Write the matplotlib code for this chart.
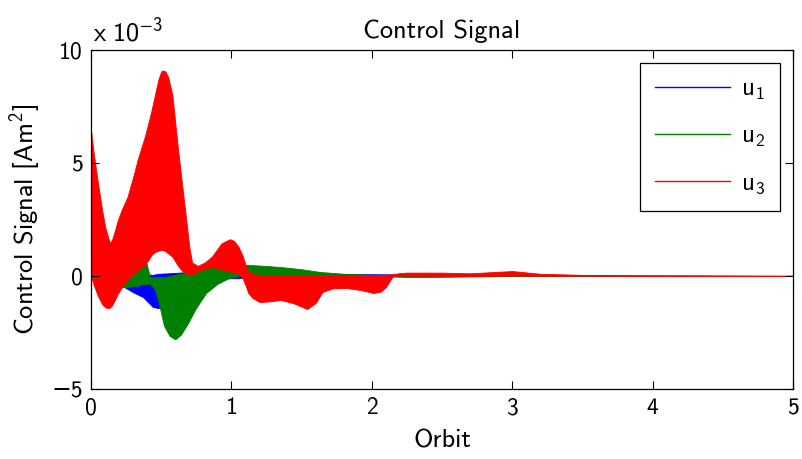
import matplotlib.pyplot as plt
from matplotlib.lines import Line2D

plt.rcParams['font.family'] = ['cmss10', 'DejaVu Sans']
plt.rcParams['mathtext.fontset'] = 'custom'
plt.rcParams['mathtext.rm'] = 'cmss10'
plt.rcParams['mathtext.it'] = 'cmss10'
plt.rcParams['axes.unicode_minus'] = False

# envelopes of the (fast oscillating) control signals, in units of 1e-3 Am^2
t_u1 = [0, 0.15, 0.24, 0.3, 0.37, 0.44, 0.48, 0.55, 0.63, 0.75, 0.9, 0.97, 1.05, 1.15, 1.5, 2.0, 3.0, 5.0]
u1_hi = [0, 0.05, 0.1, 0.1, 0.1, 0.05, 0.1, 0.12, 0.15, 0.2, 0.25, 0.45, 0.35, 0.15, 0.1, 0.08, 0.03, 0.0]
u1_lo = [0, -0.1, -0.5, -0.72, -0.93, -1.37, -1.42, -1.2, -0.6, -0.2, -0.1, -0.1, -0.1, -0.05, -0.03, 0.0, 0.0, 0.0]

t_u2 = [0, 0.15, 0.2, 0.23, 0.3, 0.396, 0.42, 0.456, 0.48, 0.52, 0.56, 0.6, 0.64, 0.69, 0.75, 0.82, 0.9, 0.98,
        1.05, 1.11, 1.35, 1.5, 1.63, 1.8, 2.0, 2.3, 3.0, 4.0, 5.0]
u2_hi = [0, 0.05, 0.1, 0.2, 0.25, 0.56, -0.05, -0.05, -0.05, -0.05, 0.0, 0.05, 0.1, 0.15, 0.25, 0.4, 0.4, 0.35,
         0.45, 0.5, 0.4, 0.3, 0.18, 0.1, 0.05, 0.05, 0.03, 0.02, 0.0]
u2_lo = [0, -0.05, -0.3, -0.5, -0.45, -0.35, -0.33, -0.6, -1.1, -2.2, -2.65, -2.8, -2.6, -2.1, -1.4, -0.75, -0.35, -0.1,
         0.0, 0.05, 0.05, 0.02, 0.0, 0.0, 0.0, -0.05, 0.0, 0.0, 0.0]

t_u3 = [0, 0.02, 0.05, 0.08, 0.1, 0.12, 0.135, 0.15, 0.17, 0.19, 0.22, 0.26, 0.31, 0.33, 0.36, 0.385, 0.41,
        0.43, 0.455, 0.48, 0.5, 0.51, 0.53, 0.55, 0.58, 0.6, 0.62, 0.65, 0.68, 0.7, 0.72, 0.76, 0.81,
        0.86, 0.93, 0.99, 1.02, 1.05, 1.08, 1.1, 1.12, 1.15, 1.2, 1.28, 1.35, 1.44, 1.54, 1.6, 1.65,
        1.72, 1.82, 1.92, 2.01, 2.06, 2.1, 2.15, 2.2, 2.25, 2.5, 2.7, 3.0, 3.2, 3.5, 4.0, 5.0]
u3_hi = [6.46, 5.4, 4.1, 2.9, 2.2, 1.75, 1.46, 1.6, 2.0, 2.45, 2.95, 3.5, 4.6, 5.1, 5.7, 6.2, 6.8,
         7.3, 8.0, 8.7, 9.05, 9.1, 9.05, 8.8, 8.0, 6.8, 5.6, 4.0, 2.4, 1.3, 0.6, 0.45, 0.6,
         0.85, 1.45, 1.63, 1.55, 1.3, 0.9, 0.5, 0.2, 0.1, 0.05, 0.05, 0.05, 0.05, 0.05, 0.05, 0.05,
         0.05, 0.05, 0.05, 0.05, 0.05, 0.05, 0.08, 0.13, 0.15, 0.15, 0.12, 0.22, 0.1, 0.05, 0.03, 0.02]
u3_lo = [0.0, -0.4, -0.9, -1.25, -1.38, -1.42, -1.4, -1.3, -1.06, -0.8, -0.5, -0.15, 0.13, 0.25, 0.38, 0.5, 0.72,
         0.92, 1.06, 1.12, 1.15, 1.15, 1.1, 1.0, 0.85, 0.65, 0.45, 0.22, 0.1, 0.05, 0.05, 0.2, 0.32,
         0.4, 0.3, 0.2, 0.15, 0.1, -0.1, -0.4, -0.75, -0.97, -1.15, -1.12, -1.06, -1.2, -1.46, -1.2, -0.7,
         -0.55, -0.53, -0.62, -0.75, -0.7, -0.5, 0.0, 0.03, 0.02, 0.01, 0.01, 0.02, 0.01, 0.01, 0.0, 0.0]

labels = ['$\\mathregular{u_1}$', '$\\mathregular{u_2}$', '$\\mathregular{u_3}$']
colors = ['#0000ff', '#008000', '#ff0000']

fig = plt.figure(figsize=(8.03, 4.59), dpi=100)
ax = fig.add_axes([0.1133, 0.1525, 0.8742, 0.7385])

series = [(t_u1, u1_lo, u1_hi), (t_u2, u2_lo, u2_hi), (t_u3, u3_lo, u3_hi)]
for (t, lo, hi), c in zip(series, colors):
    ax.fill_between(t, lo, hi, color=c, linewidth=0.6, edgecolor=c)

ax.set_xlim(0, 5)
ax.set_ylim(-5, 10)
ax.set_xticks([0, 1, 2, 3, 4, 5])
ax.set_yticks([-5, 0, 5, 10])
ax.set_yticklabels(['\u22125', '0', '5', '10'])
ax.tick_params(direction='in', top=True, right=True, length=6, width=0.8, labelsize=17, pad=6)
for s in ax.spines.values():
    s.set_linewidth(0.9)

ax.set_xlabel('Orbit', fontsize=19, labelpad=7)
ax.set_ylabel('Control Signal [Am$^{\\mathregular{2}}$]', fontsize=19, labelpad=6)
ax.set_title('Control Signal', fontsize=19, pad=9)
ax.text(0.003, 1.012, '$\\mathregular{x\\ 10^{-3}}$', transform=ax.transAxes,
        fontsize=19, ha='left', va='bottom')

handles = [Line2D([], [], color=c, linewidth=1) for c in colors]
leg = ax.legend(handles, labels, loc='upper right', fontsize=18, handlelength=3.0,
                labelspacing=0.9, borderpad=0.6, fancybox=False, framealpha=1,
                edgecolor='black', borderaxespad=0.5, handletextpad=0.45)
leg.get_frame().set_linewidth(0.9)

fig.savefig('out.png', dpi=100)
